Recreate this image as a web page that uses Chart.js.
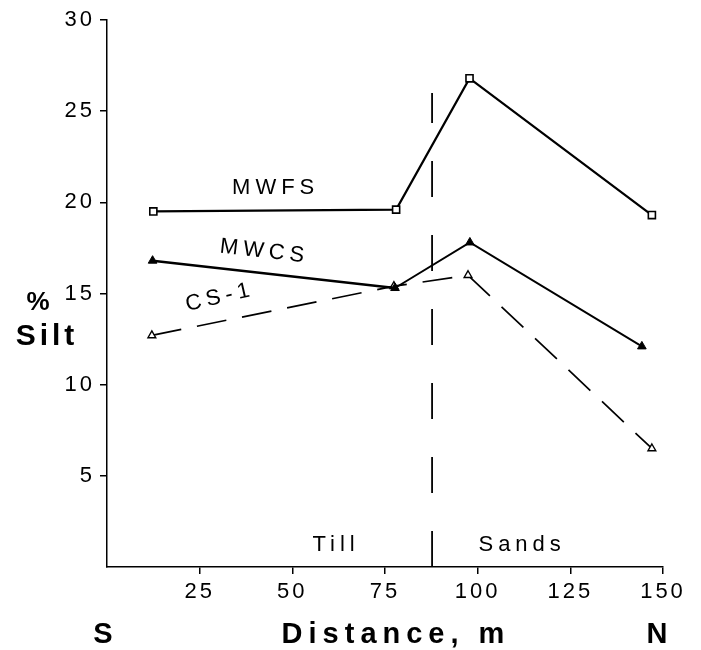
<!DOCTYPE html>
<html>
<head>
<meta charset="utf-8">
<script src="https://cdn.jsdelivr.net/npm/chart.js@4/dist/chart.umd.min.js"></script>
<style>
  body { margin: 0; background: #fff; }
  canvas { display: block; }
</style>
</head>
<body>
<canvas id="chart" width="701" height="650"></canvas>
<script>
// distance along transect (m) and % silt
const mwfsX = [12.5, 78, 97.8, 147];
const mwfsY = [19.5, 19.6, 26.8, 19.3];
const mwcsX = [12.3, 77.7, 97.9, 144.3];
const mwcsY = [16.8, 15.3, 17.8, 12.1];
const cs1X = [12.1, 77.4, 97.4, 147];
const cs1Y = [12.7, 15.4, 16.0, 6.5];

// till / sands boundary
const boundaryX = [87.7, 87.7];
const boundaryY = [0, 26];

const xTicks = [25, 50, 75, 100, 125, 150];
const yTicks = [5, 10, 15, 20, 25, 30];

const FONT = '"Liberation Sans", Arial, sans-serif';

function pts(xs, ys) {
    return xs.map((x, i) => ({ x: x, y: ys[i] }));
}

// series labels placed in data coordinates
const seriesLabels = [
    { text: 'MWFS', x: 45.5, y: 20.8, rot: 0 },
    { text: 'MWCS', x: 42.5, y: 17.3, rot: 6.5 },
    { text: 'CS-1', x: 30.5, y: 14.8, rot: -13 },
    { text: 'Till', x: 61.8, y: 1.2, rot: 0 },
    { text: 'Sands', x: 112, y: 1.2, rot: 0 }
];

const textPlugin = {
    id: 'texts',
    beforeDraw(chart) {
        chart.ctx.letterSpacing = '3px';
    },
    afterDraw(chart) {
        const ctx = chart.ctx;
        const xs = chart.scales.x;
        const ys = chart.scales.y;

        ctx.save();
        ctx.fillStyle = '#000';
        ctx.textAlign = 'center';
        ctx.textBaseline = 'middle';
        ctx.font = '22px ' + FONT;
        ctx.letterSpacing = '5px';
        seriesLabels.forEach(l => {
            ctx.save();
            ctx.translate(xs.getPixelForValue(l.x), ys.getPixelForValue(l.y));
            ctx.rotate(l.rot * Math.PI / 180);
            ctx.fillText(l.text, 0, 0);
            ctx.restore();
        });

        // axis titles
        ctx.font = 'bold 26px ' + FONT;
        ctx.letterSpacing = '0px';
        ctx.fillText('%', 38, 303);
        ctx.font = 'bold 30px ' + FONT;
        ctx.letterSpacing = '4px';
        ctx.fillText('Silt', 47, 337);

        ctx.font = 'bold 29px ' + FONT;
        ctx.letterSpacing = '0px';
        ctx.fillText('S', 103, 635);
        ctx.fillText('N', 657, 635);
        ctx.letterSpacing = '6px';
        ctx.fillText('Distance, m', 396, 635);
        ctx.restore();
    }
};

const tickColor = c => (c.tick && c.tick.value === 0 ? 'rgba(0,0,0,0)' : '#000');

new Chart(document.getElementById('chart').getContext('2d'), {
    type: 'scatter',
    data: {
        datasets: [
            {
                label: 'MWFS',
                data: pts(mwfsX, mwfsY),
                showLine: true,
                borderColor: '#000',
                borderWidth: 2.2,
                pointStyle: 'rect',
                pointRadius: 5,
                pointBorderWidth: 1.6,
                pointBackgroundColor: '#fff',
                pointBorderColor: '#000'
            },
            {
                label: 'MWCS',
                data: pts(mwcsX, mwcsY),
                showLine: true,
                borderColor: '#000',
                borderWidth: 2,
                segment: {
                    borderWidth: c => (c.p0DataIndex === 0 ? 2.6 : 1.9)
                },
                pointStyle: 'triangle',
                pointRadius: 5,
                pointBorderWidth: 1,
                pointBackgroundColor: '#000',
                pointBorderColor: '#000'
            },
            {
                label: 'CS-1',
                data: pts(cs1X, cs1Y),
                showLine: true,
                borderColor: '#000',
                borderWidth: 1.7,
                borderDash: [30, 16],
                pointStyle: 'triangle',
                pointRadius: 4.5,
                pointBorderWidth: 1.4,
                pointBackgroundColor: '#fff',
                pointBorderColor: '#000'
            },
            {
                label: 'boundary',
                data: pts(boundaryX, boundaryY),
                showLine: true,
                borderColor: '#000',
                borderWidth: 1.8,
                borderDash: [36, 38],
                pointRadius: 0
            }
        ]
    },
    options: {
        responsive: false,
        animation: false,
        layout: { padding: { top: 20, right: 38, left: 0, bottom: 0 } },
        plugins: {
            legend: { display: false },
            tooltip: { enabled: false }
        },
        scales: {
            x: {
                type: 'linear',
                min: 0,
                max: 150,
                afterFit(scale) { scale.height = 83; },
                afterBuildTicks(scale) {
                    scale.ticks = [0].concat(xTicks).map(v => ({ value: v }));
                },
                border: { display: true, color: '#000', width: 1.5 },
                grid: { drawOnChartArea: false, drawTicks: true, tickLength: 7, color: tickColor, lineWidth: 1.5 },
                ticks: {
                    color: '#000',
                    font: { family: FONT, size: 22 },
                    padding: 5,
                    maxRotation: 0,
                    callback: v => (v === 0 ? '' : v)
                }
            },
            y: {
                min: 0,
                max: 30,
                afterFit(scale) { scale.width = 107; },
                afterBuildTicks(scale) {
                    scale.ticks = [0].concat(yTicks).map(v => ({ value: v }));
                },
                border: { display: true, color: '#000', width: 1.5 },
                grid: { drawOnChartArea: false, drawTicks: true, tickLength: 7, color: tickColor, lineWidth: 1.5 },
                ticks: {
                    color: '#000',
                    font: { family: FONT, size: 22 },
                    padding: 5,
                    callback: v => (v === 0 ? '' : v)
                }
            }
        }
    },
    plugins: [textPlugin]
});
</script>
</body>
</html>
